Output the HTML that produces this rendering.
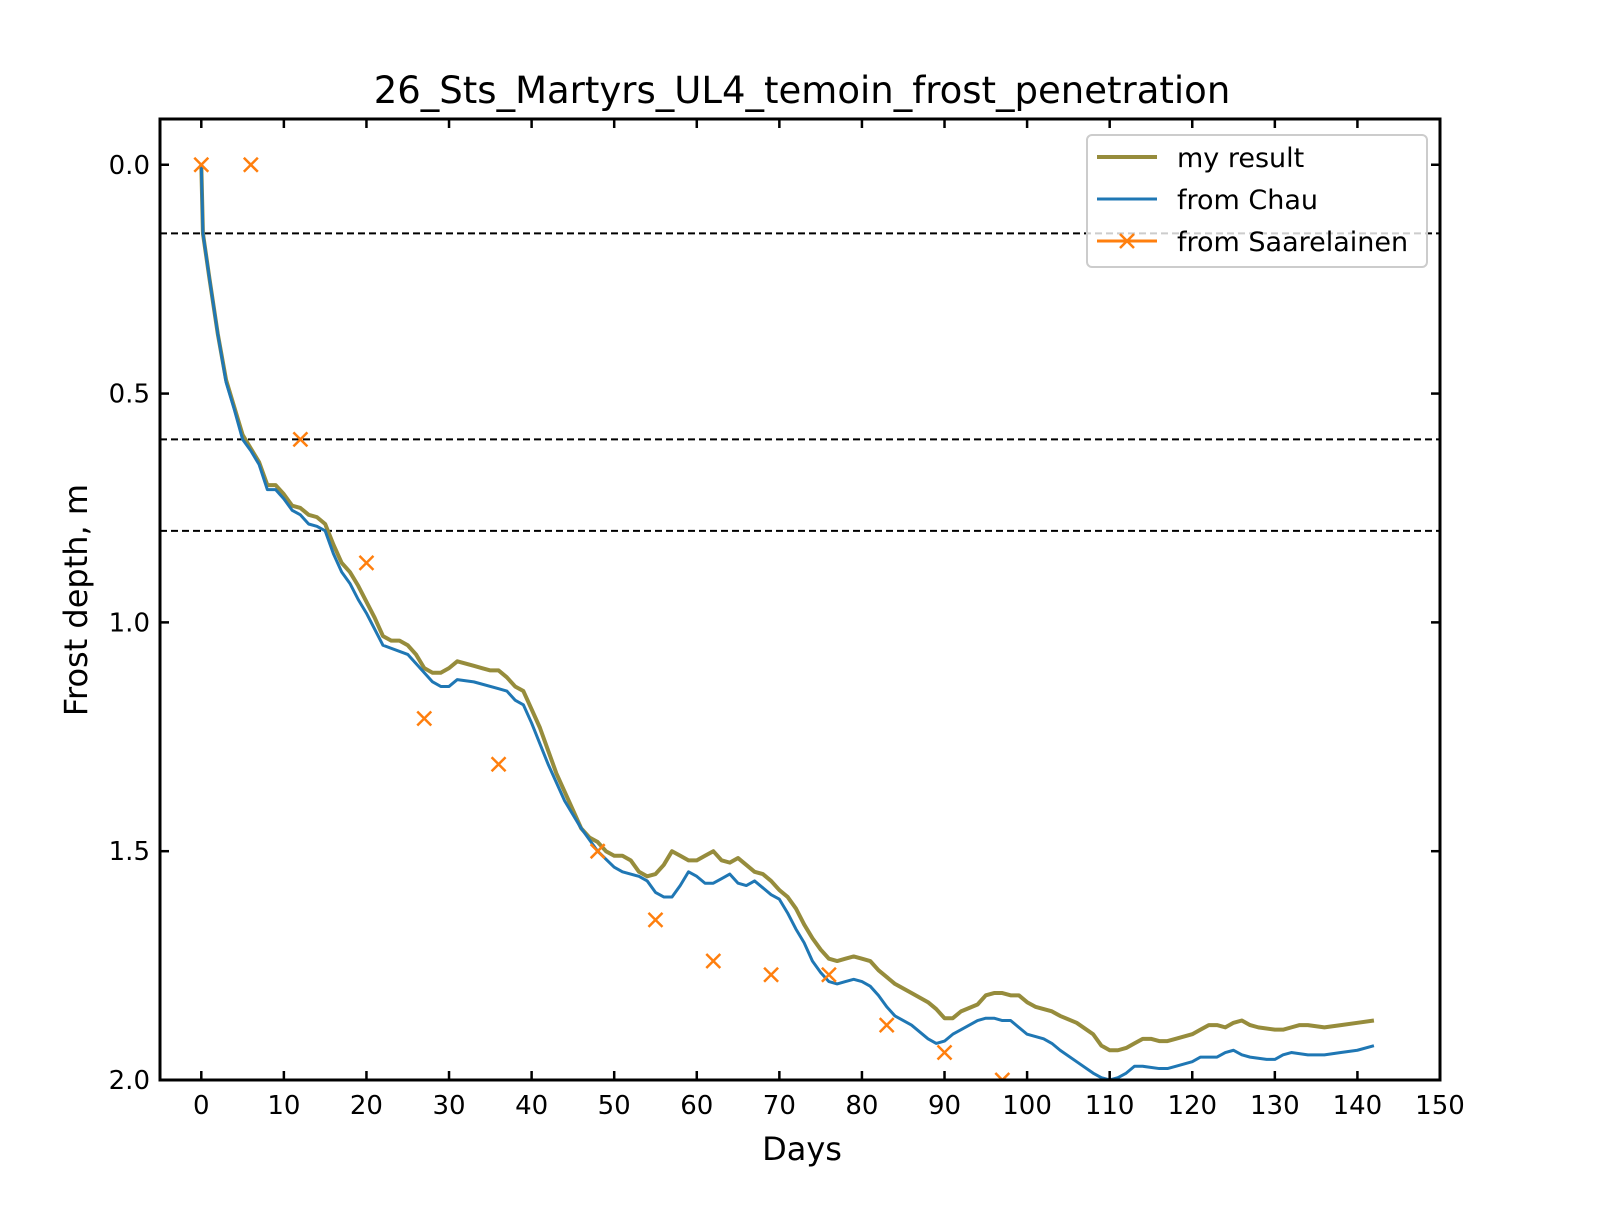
<!DOCTYPE html>
<html><head><meta charset="utf-8"><style>
html,body{margin:0;padding:0;background:#fff;}
svg text{font-family:"DejaVu Sans","Liberation Sans",sans-serif;fill:#000;}
</style></head><body>
<svg id="chart" width="1600" height="1200" xmlns="http://www.w3.org/2000/svg">
<defs><clipPath id="clip"><rect x="160" y="119" width="1280" height="961"/></clipPath></defs>
<rect x="0" y="0" width="1600" height="1200" fill="#fff"/>
<text x="802" y="103" font-size="37" text-anchor="middle">26_Sts_Martyrs_UL4_temoin_frost_penetration</text>
<g id="plot" clip-path="url(#clip)"></g>
<g id="axes"></g>
<text x="802" y="1160" font-size="32" text-anchor="middle">Days</text>
<text transform="translate(87,600) rotate(-90)" font-size="32" text-anchor="middle">Frost depth, m</text>
<g>
<rect x="1087" y="135" width="340" height="132" rx="5" fill="#fff" fill-opacity="0.8" stroke="#ccc" stroke-width="2"/>
<line x1="1097" y1="157" x2="1157" y2="157" stroke="#968c3c" stroke-width="4"/>
<text x="1177" y="167" font-size="27">my result</text>
<line x1="1097" y1="199" x2="1157" y2="199" stroke="#1f77b4" stroke-width="3"/>
<text x="1177" y="209" font-size="27">from Chau</text>
<line x1="1097" y1="241" x2="1157" y2="241" stroke="#ff7f0e" stroke-width="3"/>
<path d="M1120,234 L1134,248 M1134,234 L1120,248" stroke="#ff7f0e" stroke-width="2.5"/>
<text x="1177" y="251" font-size="27">from Saarelainen</text>
</g>
</svg>
<script>
const myDays=[0,0.2,1,2,3,4,5,6,7,8,9,10,11,12,13,14,15,16,17,18,19,20,21,22,23,24,25,26,27,28,29,30,31,32,33,34,35,36,37,38,39,40,41,42,43,44,45,46,47,48,49,50,51,52,53,54,55,56,57,58,59,60,61,62,63,64,65,66,67,68,69,70,71,72,73,74,75,76,77,78,79,80,81,82,84,86,88,89,90,91,92,94,95,96,97,98,99,100,101,102,103,104,106,108,109,110,111,112,113,114,115,116,117,118,120,121,122,123,124,125,126,127,128,130,131,132,133,134,136,138,140,142];
const myResult=[0,0.15,0.25,0.37,0.47,0.53,0.59,0.62,0.65,0.70,0.70,0.72,0.745,0.75,0.765,0.77,0.785,0.83,0.87,0.89,0.92,0.955,0.99,1.03,1.04,1.04,1.05,1.07,1.10,1.11,1.11,1.10,1.085,1.09,1.095,1.10,1.105,1.105,1.12,1.14,1.15,1.19,1.23,1.28,1.33,1.37,1.41,1.45,1.47,1.48,1.50,1.51,1.51,1.52,1.545,1.555,1.55,1.53,1.50,1.51,1.52,1.52,1.51,1.50,1.52,1.525,1.515,1.53,1.545,1.55,1.565,1.585,1.6,1.625,1.66,1.69,1.715,1.735,1.74,1.735,1.73,1.735,1.74,1.76,1.79,1.81,1.83,1.845,1.865,1.865,1.85,1.835,1.815,1.81,1.81,1.815,1.815,1.83,1.84,1.845,1.85,1.86,1.875,1.9,1.925,1.935,1.935,1.93,1.92,1.91,1.91,1.915,1.915,1.91,1.9,1.89,1.88,1.88,1.885,1.875,1.87,1.88,1.885,1.89,1.89,1.885,1.88,1.88,1.885,1.88,1.875,1.87,1.86];
const chauDays=[0,0.2,1,2,3,4,5,6,7,8,9,10,11,12,13,14,15,16,17,18,19,20,22,25,28,29,30,31,33,36,37,38,39,40,42,44,46,48,50,51,53,54,55,56,57,58,59,60,61,62,63,64,65,66,67,68,69,70,71,72,73,74,75,76,77,78,79,80,81,82,83,84,86,88,89,90,91,92,94,95,96,97,98,99,100,102,103,104,106,108,109,110,111,112,113,114,116,117,118,120,121,122,123,124,125,126,127,129,130,131,132,134,136,138,140,142];
const chau=[0,0.15,0.25,0.37,0.475,0.535,0.6,0.625,0.655,0.71,0.71,0.73,0.755,0.765,0.785,0.79,0.8,0.85,0.89,0.915,0.95,0.98,1.05,1.07,1.13,1.14,1.14,1.125,1.13,1.145,1.15,1.17,1.18,1.22,1.31,1.39,1.45,1.50,1.535,1.545,1.555,1.565,1.59,1.6,1.6,1.575,1.545,1.555,1.57,1.57,1.56,1.55,1.57,1.575,1.565,1.58,1.595,1.605,1.635,1.67,1.70,1.74,1.765,1.785,1.79,1.785,1.78,1.785,1.795,1.815,1.84,1.86,1.88,1.91,1.92,1.915,1.9,1.89,1.87,1.865,1.865,1.87,1.87,1.885,1.9,1.91,1.92,1.935,1.96,1.985,1.995,2.0,1.995,1.985,1.97,1.97,1.975,1.975,1.97,1.96,1.95,1.95,1.95,1.94,1.935,1.945,1.95,1.955,1.955,1.945,1.94,1.945,1.945,1.94,1.935,1.925];
const saarDays=[0,6,12,20,27,36,48,55,62,69,76,83,90,97,104];
const saar=[0,0,0.6,0.87,1.21,1.31,1.5,1.65,1.74,1.77,1.77,1.88,1.94,2.0,2.02];
const refDepths=[0.15,0.6,0.8];
const xTicks=[0,10,20,30,40,50,60,70,80,90,100,110,120,130,140,150];
const yTicks=[0,0.5,1.0,1.5,2.0];
const yTickLabels=["0.0","0.5","1.0","1.5","2.0"];

const X0=160,X1=1440,Y0=119,Y1=1080,xmin=-5,xmax=150,ymin=-0.1,ymax=2.0;
const sx=v=>X0+(v-xmin)/(xmax-xmin)*(X1-X0);
const sy=v=>Y0+(v-ymin)/(ymax-ymin)*(Y1-Y0);
const NS="http://www.w3.org/2000/svg";
const plot=document.getElementById('plot'),axes=document.getElementById('axes');
function mk(tag,attrs,parent){const e=document.createElementNS(NS,tag);for(const k in attrs)e.setAttribute(k,attrs[k]);parent.appendChild(e);return e;}
refDepths.forEach((d,i)=>{
  const l=mk('line',{x1:X0,x2:X1,y1:sy(d),y2:sy(d),stroke:'#000','stroke-width':2,'stroke-dasharray':'7,4'},plot);
  
  
});
function line(xs,ys,color,w,name){
  const p=mk('polyline',{points:xs.map((x,i)=>sx(x)+','+sy(ys[i])).join(' '),fill:'none',stroke:color,'stroke-width':w,'stroke-linejoin':'round'},plot);
  
  
}
line(myDays,myResult,'#968c3c',4,'my-result-line');
line(chauDays,chau,'#1f77b4',3,'chau-line');
saarDays.forEach((d,i)=>{
  const cx=sx(d),cy=sy(saar[i]),r=7;
  const m=mk('path',{d:`M${cx-r},${cy-r}L${cx+r},${cy+r}M${cx+r},${cy-r}L${cx-r},${cy+r}`,stroke:'#ff7f0e','stroke-width':2.5,fill:'none'},plot);
  
  
});
const frame=mk('rect',{x:X0,y:Y0,width:X1-X0,height:Y1-Y0,fill:'none',stroke:'#000','stroke-width':3},axes);


xTicks.forEach(t=>{
  const x=sx(t);
  mk('line',{x1:x,x2:x,y1:Y1,y2:Y1-9,stroke:'#000','stroke-width':2.5},axes);
  mk('line',{x1:x,x2:x,y1:Y0,y2:Y0+9,stroke:'#000','stroke-width':2.5},axes);
  const tx=mk('text',{x:x,y:Y1+34,'font-size':26,'text-anchor':'middle'},axes);
  tx.textContent=t;
  
  
});
yTicks.forEach((t,i)=>{
  const y=sy(t);
  mk('line',{x1:X0,x2:X0+9,y1:y,y2:y,stroke:'#000','stroke-width':2.5},axes);
  mk('line',{x1:X1,x2:X1-9,y1:y,y2:y,stroke:'#000','stroke-width':2.5},axes);
  const tx=mk('text',{x:X0-10,y:y+9,'font-size':26,'text-anchor':'end'},axes);
  tx.textContent=yTickLabels[i];
  
  
});
</script>
</body></html>
